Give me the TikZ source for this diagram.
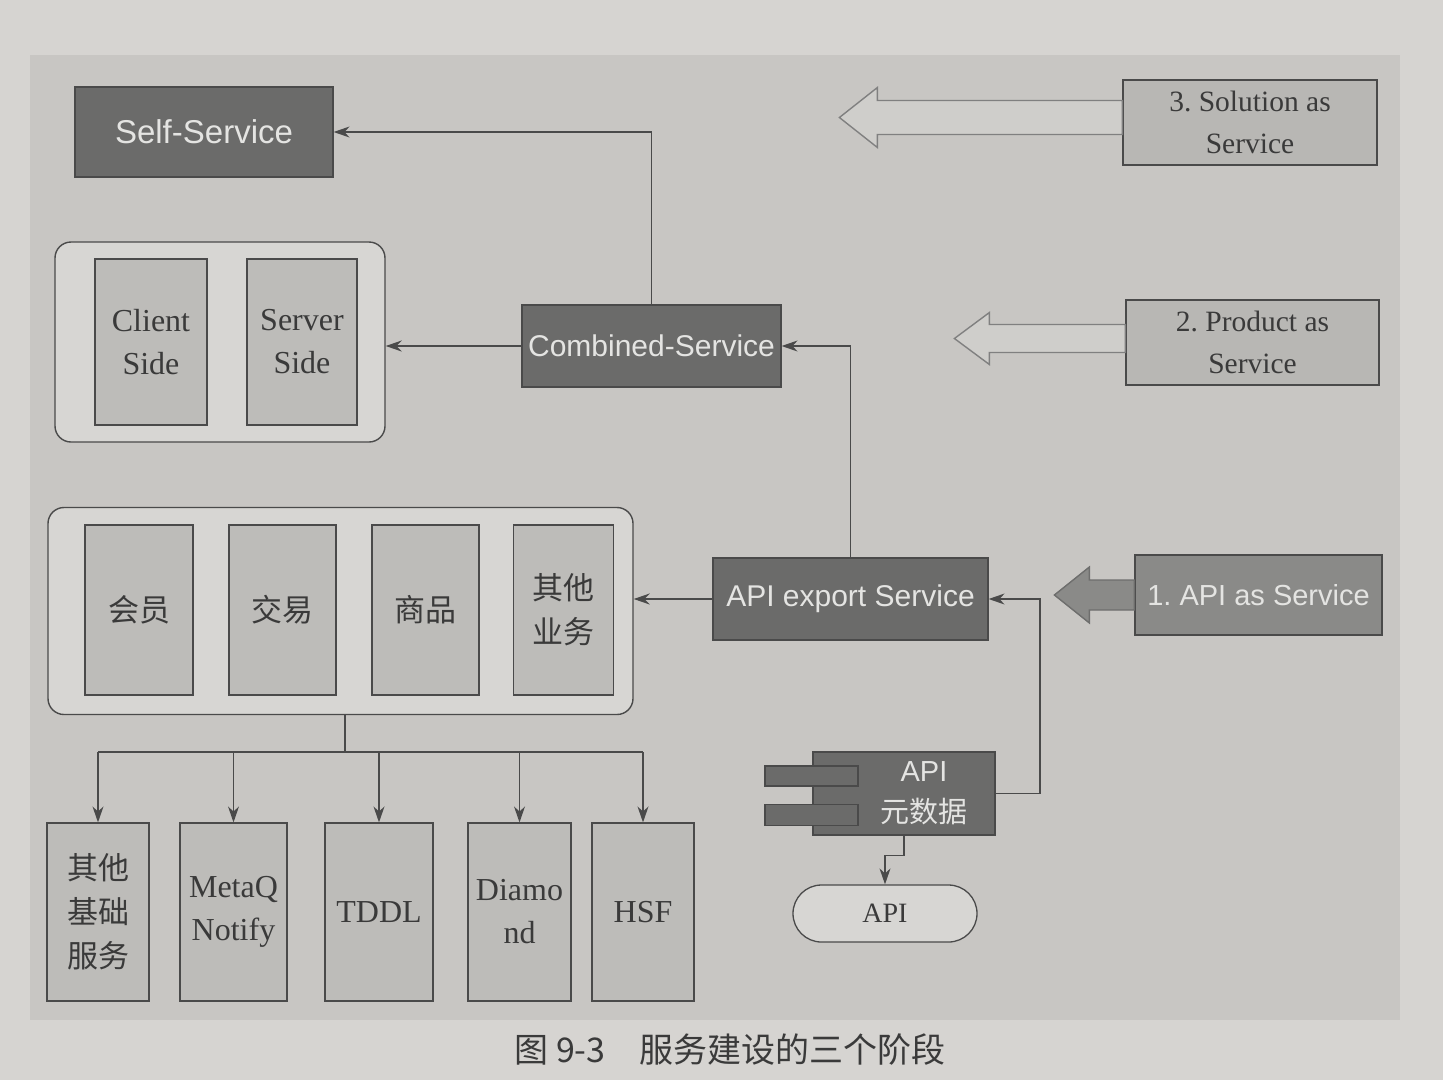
\documentclass[tikz,border=0pt]{standalone}
\usepackage{fontspec}
\setmainfont{Liberation Serif}
\setsansfont{Liberation Sans}
\newfontfamily\cjk{Noto Sans CJK SC}
\usetikzlibrary{arrows.meta,shapes.misc}
\definecolor{pagebg}{HTML}{D6D4D1}
\definecolor{panelbg}{HTML}{C8C6C3}
\definecolor{darkbox}{HTML}{6B6B6A}
\definecolor{stageone}{HTML}{8A8A88}
\definecolor{lightbox}{HTML}{BDBCB9}
\definecolor{groupbg}{HTML}{D7D6D3}
\definecolor{stagebox}{HTML}{B8B7B4}
\definecolor{stagearr}{HTML}{CFCECB}
\definecolor{txtdark}{HTML}{3A3A3A}
\definecolor{txtlight}{HTML}{E4E4E2}
\definecolor{edge}{HTML}{4A4A4A}
\tikzset{
  darkstyle/.style={draw=edge, line width=1.2pt, fill=darkbox, text=txtlight,
    font=\sffamily\fontsize{30}{35}\selectfont, inner sep=0pt},
  lightstyle/.style={draw=edge, line width=1.2pt, fill=lightbox, text=txtdark,
    font=\fontsize{32}{43}\selectfont, inner sep=0pt, align=center},
  cjkstyle/.style={lightstyle, font=\cjk\fontsize{31}{44}\selectfont},
  groupstyle/.style={draw=edge, line width=1.4pt, fill=groupbg, rounded corners=16pt},
  stagestyle/.style={draw=edge, line width=1.2pt, fill=stagebox, text=txtdark,
    font=\fontsize{29.5}{42}\selectfont, inner sep=0pt, align=center},
  stagearrow/.style={draw=gray, line width=1.4pt, fill=stagearr},
  arr/.style={draw=edge, line width=1.4pt, -{Stealth[length=16pt,width=11pt]}},
  conn/.style={draw=edge, line width=1.4pt},
}
\begin{document}
\frenchspacing
\begin{tikzpicture}[x=1pt,y=-1pt]
\useasboundingbox (0,0) rectangle (1443,1080);
\fill[pagebg] (0,0) rectangle (1443,1080);
\fill[panelbg] (30,55) rectangle (1400,1020);

% Self-Service
\node[darkstyle, font=\sffamily\fontsize{33}{38}\selectfont, minimum width=258pt, minimum height=90pt] (self) at (204,132) {Self-Service};

% Client/Server group
\node[groupstyle, minimum width=330pt, minimum height=200pt] (g1) at (220,342) {};
\node[lightstyle, minimum width=112pt, minimum height=166pt] (client) at (151,342) {Client\\Side};
\node[lightstyle, minimum width=110pt, minimum height=166pt] (server) at (302,342) {Server\\Side};

% Combined-Service
\node[darkstyle, minimum width=259pt, minimum height=82pt] (comb) at (651.5,346) {Combined-Service};

% Business group
\node[groupstyle, minimum width=585pt, minimum height=207pt] (g2) at (340.5,611) {};
\node[cjkstyle, minimum width=108pt, minimum height=170pt] (b1) at (139,610) {会员};
\node[cjkstyle, minimum width=107pt, minimum height=170pt] (b2) at (282.5,610) {交易};
\node[cjkstyle, minimum width=107pt, minimum height=170pt] (b3) at (425.5,610) {商品};
\node[cjkstyle, minimum width=100pt, minimum height=170pt] (b4) at (563.5,610) {其他\\业务};

% API export Service
\node[darkstyle, minimum width=275pt, minimum height=82pt] (apiexp) at (850.5,599) {API export Service};

% API metadata component
\node[darkstyle, minimum width=182pt, minimum height=83pt] (meta) at (904,793.5) {};
\node[draw=edge, line width=1.2pt, fill=darkbox, minimum width=93pt, minimum height=20pt, inner sep=0pt] (tab1) at (811.5,776) {};
\node[draw=edge, line width=1.2pt, fill=darkbox, minimum width=93pt, minimum height=21pt, inner sep=0pt] (tab2) at (811.5,815) {};
\node[text=txtlight, align=center, font=\sffamily\fontsize{29}{41}\selectfont] (metatext) at (924,793.5) {API\\{\cjk 元数据}};

% API stadium
\node[rounded rectangle, draw=edge, line width=1.3pt, fill=groupbg, minimum width=184pt, minimum height=57pt, inner sep=0pt, text=txtdark, font=\fontsize{28}{32}\selectfont] (apinode) at (885,913.5) {API};

% Bottom infrastructure boxes
\node[cjkstyle, minimum width=102pt, minimum height=178pt] (i1) at (98,912) {其他\\基础\\服务};
\node[lightstyle, minimum width=107pt, minimum height=178pt] (i2) at (233.5,912) {MetaQ\\Notify};
\node[lightstyle, minimum width=108pt, minimum height=178pt] (i3) at (379,912) {TDDL};
\node[lightstyle, minimum width=103pt, minimum height=178pt] (i4) at (519.5,912) {Diamo\\nd};
\node[lightstyle, minimum width=102pt, minimum height=178pt] (i5) at (643,912) {HSF};

% Stage boxes
\node[stagestyle, minimum width=254pt, minimum height=85pt] (s3) at (1250,122.5) {3. Solution as\\Service};
\node[stagestyle, minimum width=253pt, minimum height=85pt] (s2) at (1252.5,342.5) {2. Product as\\Service};
\node[draw=edge, line width=1.2pt, fill=stageone, text=txtlight, font=\sffamily\fontsize{29}{34}\selectfont, inner sep=0pt, minimum width=247pt, minimum height=80pt] (s1) at (1258.5,595) {1. API as Service};

% Stage block arrows
\draw[stagearrow] ([yshift=5]s3.west) ++(0,-17) -- ++(-245,0) -- ++(0,-13) -- ++(-38,30) -- ++(38,30) -- ++(0,-13) -- ++(245,0) -- cycle;
\draw[stagearrow] ([yshift=4]s2.west) ++(0,-14) -- ++(-136,0) -- ++(0,-12) -- ++(-35,26) -- ++(35,26) -- ++(0,-12) -- ++(136,0) -- cycle;
\draw[stagearrow, draw=stageone!80!black, fill=stageone] (s1.west) ++(0,-15) -- ++(-45,0) -- ++(0,-13) -- ++(-35,28) -- ++(35,28) -- ++(0,-13) -- ++(45,0) -- cycle;

% Connectors
\draw[arr] (comb.north) |- (self.east);
\draw[arr] (comb.west) -- (comb.west -| g1.east);
\draw[arr] (apiexp.north) |- (comb.east);
\draw[arr] (apiexp.west) -- (apiexp.west -| g2.east);
\coordinate (rside) at (1040,0);
\draw[arr] (meta.east) -- (meta.east -| rside) |- (apiexp.east);
\draw[arr] (meta.south) -- ++(0,20) -| (apinode.north);

\coordinate (bus) at (345,752);
\draw[conn] (bus |- g2.south) -- (bus);
\draw[conn] (bus -| i1.north) -- (bus -| i5.north);
\foreach \n in {i1,i2,i3,i4,i5} { \draw[arr] (bus -| \n.north) -- (\n.north); }

% Caption
\node[text=txtdark, font=\cjk\fontsize{34}{38}\selectfont] (caption) at (730,1050) {图 9-3\quad 服务建设的三个阶段};
\end{tikzpicture}
\end{document}
